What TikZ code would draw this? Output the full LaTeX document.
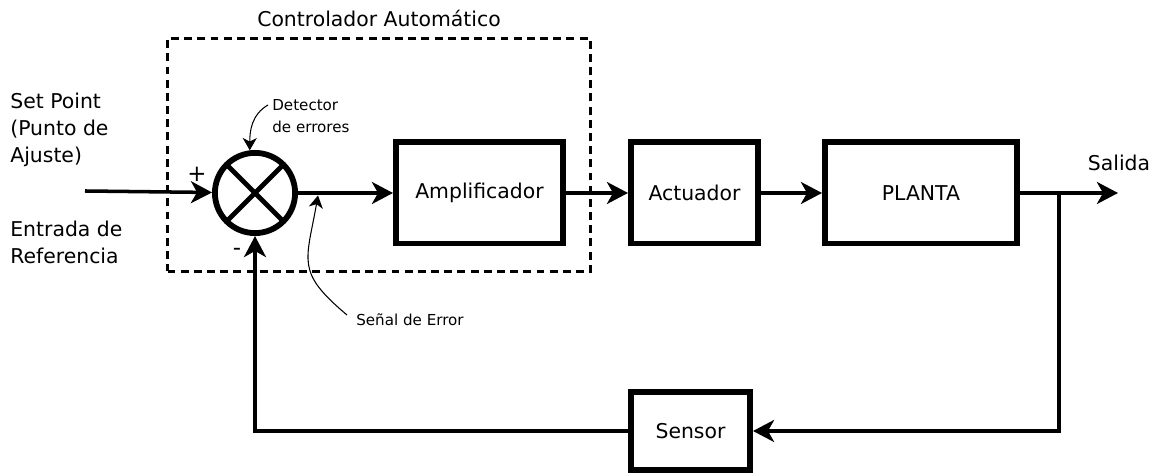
\documentclass[tikz,border=0pt]{standalone}
\usepackage{fontspec}
\setmainfont{DejaVu Sans}
\usetikzlibrary{positioning, arrows.meta, calc}

\begin{document}
\begin{tikzpicture}[
	bloque/.style={draw, line width=3.3pt, minimum height=2.024cm, font=\fontsize{11.6}{14}\selectfont},
	sumador/.style={draw, circle, line width=3.3pt, minimum size=1.604cm, inner sep=0pt,
		path picture={\draw[line width=2.8pt]
			(path picture bounding box.north west) -- (path picture bounding box.south east)
			(path picture bounding box.north east) -- (path picture bounding box.south west);}},
	marco/.style={draw, line width=1.8pt, dash pattern=on 4.5pt off 3pt, inner sep=0pt},
	flecha/.style={line width=2pt, -{Stealth[length=12pt, width=12.5pt, inset=3.5pt]}},
	indica/.style={line width=0.6pt, -{Stealth[length=7pt, width=8pt, inset=2pt]}},
	nota/.style={align=left, inner sep=0pt, font=\fontsize{11.6}{15.3}\selectfont},
	notita/.style={align=left, inner sep=0pt, font=\fontsize{8.6}{12.5}\selectfont}
]
	\useasboundingbox (0,0) rectangle (23.24,9.48);

	\node[marco, minimum width=8.46cm, minimum height=4.66cm] (ctrl) at (7.58,6.38) {};
	\node[nota, above=0.2cm of ctrl] (titulo) {Controlador Automático};

	\node[sumador] (sum) at (5.10,5.62) {};
	\node[bloque, minimum width=3.344cm, right=1.9cm of sum] (amp) {Amplificador};
	\node[bloque, minimum width=2.544cm, right=1.24cm of amp] (act) {Actuador};
	\node[bloque, minimum width=3.844cm, right=1.22cm of act] (pla) {PLANTA};
	\node[bloque, minimum width=2.384cm, minimum height=1.564cm] (sen) at (13.81,0.86) {Sensor};

	\coordinate (ent) at (1.70,5.66);
	\coordinate (sal) at (22.36,5.62);
	\coordinate (rama) at (21.18,5.62);
	\coordinate (pe) at (6.36,5.57);

	\draw[flecha] (ent) -- (sum);
	\draw[flecha] (sum.east) -- (amp.west);
	\draw[flecha] (amp) -- (act);
	\draw[flecha] (act) -- (pla);
	\draw[flecha] (pla.east) -- (sal);
	\draw[flecha] (rama) |- (sen.east);
	\draw[flecha] (sen.west) -| (sum.south);

	\node[nota, anchor=west] (sp) at (0.2,6.88) {Set Point\\(Punto de\\Ajuste)};
	\node[nota, anchor=west] (ref) at (0.2,4.64) {Entrada de\\Referencia};
	\node[nota] (salida) at (22.38,6.22) {Salida};
	\node[nota, font=\fontsize{13}{15}\selectfont] (mas) at (3.94,6.00) {+};
	\node[nota, font=\fontsize{13}{15}\selectfont] (menos) at (4.74,4.44) {-};

	\node[notita, anchor=west] (det) at (5.44,7.16) {Detector\\de errores};
	\draw[indica] ($(det.west)+(-0.08,0.22)$) to[out=210, in=90] (sum.97);
	\node[notita, anchor=west] (err) at (7.12,3.08) {Señal de Error};
	\draw[indica] ($(err.west)+(-0.18,0.10)$) to[out=140, in=-100, looseness=1.4] (pe);
\end{tikzpicture}
\end{document}
